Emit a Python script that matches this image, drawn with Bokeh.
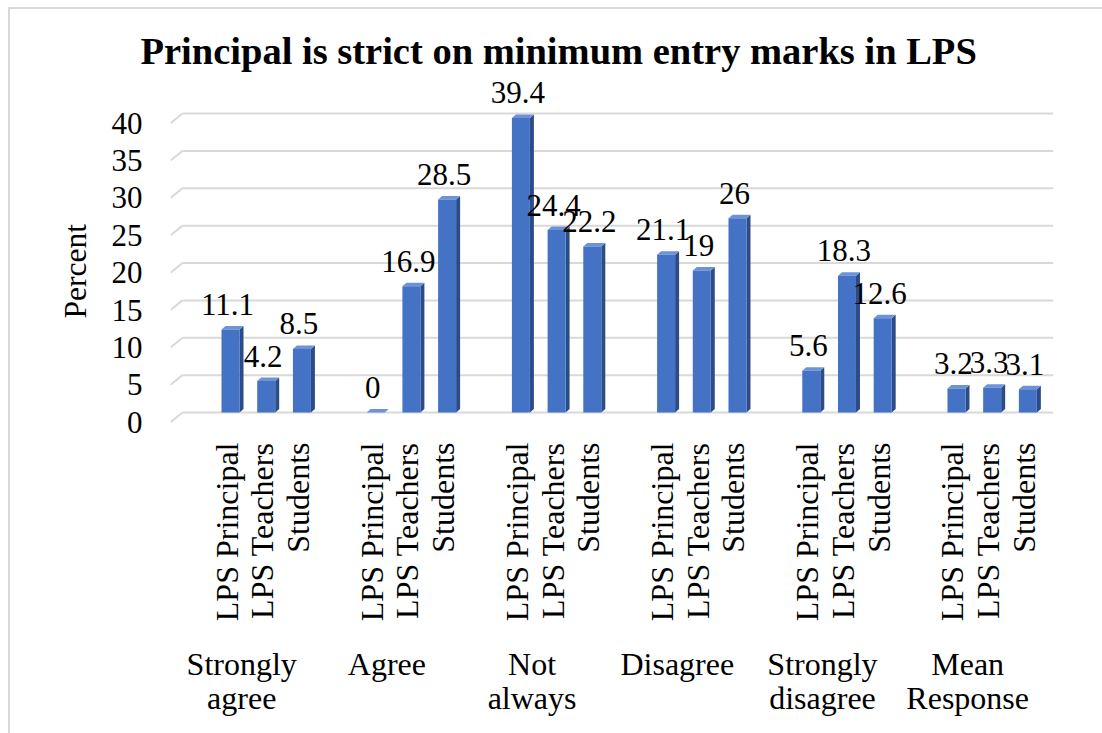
import math

from bokeh.core.properties import value
from bokeh.embed import file_html
from bokeh.models import ColumnDataSource, FixedTicker, LinearAxis, Range1d
from bokeh.plotting import figure
from bokeh.resources import INLINE

# ---- data -------------------------------------------------------------
categories = ["Strongly agree", "Agree", "Not always", "Disagree",
              "Strongly disagree", "Mean Response"]
category_labels = ["Strongly\nagree", "Agree", "Not\nalways", "Disagree",
                   "Strongly\ndisagree", "Mean\nResponse"]
series = ["LPS Principal", "LPS Teachers", "Students"]
principal = [11.1, 0, 39.4, 21.1, 5.6, 3.2]
teachers = [4.2, 16.9, 24.4, 19, 18.3, 3.3]
students = [8.5, 28.5, 22.2, 26, 12.6, 3.1]
y_ticks = [0, 5, 10, 15, 20, 25, 30, 35, 40]

values_by_series = [principal, teachers, students]

# ---- layout constants (pixels per data unit, 3D depth) ----------------
PX_X = 35.7            # one bar slot
PX_Y = 7.475           # one percent
GROUP_STEP = 4.067     # slots between neighbouring categories
BAR_W = 18 / PX_X
DEPTH_X = 4 / PX_X
DEPTH_Y = 3.5 / PX_Y
X_START, X_END = -2.681, -2.681 + 883 / PX_X
Y_START, Y_END = -1.605, -1.605 + 346 / PX_Y
FLOOR_DX = 12 / PX_X   # slanted start of each wall gridline
FLOOR_DY = 9.7 / PX_Y

FRONT = "#4472C4"
SIDE = "#2B4C88"
TOP = "#6B93D6"
GRID = "#D9D9D9"
FONT = "Liberation Serif"

# ---- geometry derived from the data -----------------------------------
bar_x, bar_v, bar_txt = [], [], []
for gi, _ in enumerate(categories):
    for si, vals in enumerate(values_by_series):
        bar_x.append(gi * GROUP_STEP + (si - 1))
        bar_v.append(vals[gi])
        bar_txt.append(f"{vals[gi]:g}")

front = ColumnDataSource(dict(
    left=[x - BAR_W / 2 for x in bar_x],
    right=[x + BAR_W / 2 for x in bar_x],
    top=bar_v,
))
side_xs, side_ys, top_xs, top_ys = [], [], [], []
for x, v in zip(bar_x, bar_v):
    l, r = x - BAR_W / 2, x + BAR_W / 2
    side_xs.append([r, r + DEPTH_X, r + DEPTH_X, r])
    side_ys.append([0, DEPTH_Y, v + DEPTH_Y, v])
    top_xs.append([l, l + DEPTH_X, r + DEPTH_X, r])
    top_ys.append([v, v + DEPTH_Y, v + DEPTH_Y, v])

grid_start = X_START + FLOOR_DX
grid = ColumnDataSource(dict(
    x0=[grid_start] * len(y_ticks), x1=[X_END] * len(y_ticks), y=y_ticks,
    kx0=[X_START] * len(y_ticks), ky0=[t - FLOOR_DY for t in y_ticks],
))

# ---- figure -----------------------------------------------------------
p = figure(
    frame_width=883, frame_height=346,
    min_border_left=170, min_border_right=49,
    min_border_top=78, min_border_bottom=309,
    x_range=Range1d(X_START, X_END), y_range=Range1d(Y_START, Y_END),
    y_axis_location=None,
    output_backend="svg", toolbar_location=None,
    background_fill_color=None, border_fill_color=None,
    outline_line_color=None,
)
p.xgrid.visible = False
p.ygrid.visible = False

# thin light-grey chart-area border (left and top edges)
p.styles = {
    "background-color": "white",
    "background-image": f"linear-gradient({GRID}, {GRID}), linear-gradient({GRID}, {GRID})",
    "background-size": "2px 100%, 100% 2px",
    "background-position": "8px 7px, 8px 7px",
    "background-repeat": "no-repeat",
}

p.title.text = "Principal is strict on minimum entry marks in LPS"
p.title.text_font = FONT
p.title.text_font_size = "38.5px"
p.title.text_font_style = "bold"
p.title.text_color = "black"
p.title.align = "left"
p.title.offset = -30
p.title.standoff = 14

# wall gridlines with their slanted floor ends
p.segment(x0="x0", y0="y", x1="x1", y1="y", source=grid,
          line_color=GRID, line_width=2)
p.segment(x0="kx0", y0="ky0", x1="x0", y1="y", source=grid,
          line_color=GRID, line_width=2)

# 3D bars: right side, top, front
p.patches(side_xs, side_ys, fill_color=SIDE, line_color=None)
p.patches(top_xs, top_ys, fill_color=TOP, line_color=None)
p.quad(left="left", right="right", bottom=0, top="top", source=front,
       fill_color=FRONT, line_color=None)

# value labels
p.text(x=bar_x, y=bar_v, text=bar_txt, x_offset=-3, y_offset=-25,
       text_align="center", text_baseline="alphabetic",
       text_font=value(FONT), text_font_size="31px", text_color="black")

# y axis
p.extra_y_ranges = {"lab": Range1d(Y_START + FLOOR_DY, Y_END + FLOOR_DY)}
yaxis = LinearAxis(
    y_range_name="lab", ticker=FixedTicker(ticks=y_ticks),
    axis_label="Percent" + "\u00a0" * 5,
    axis_line_color=None, major_tick_line_color=None, minor_tick_line_color=None,
    major_tick_out=0, minor_tick_out=0, major_label_standoff=28,
    axis_label_standoff=16,
    major_label_text_font=FONT, major_label_text_font_size="31px",
    major_label_text_color="black",
    axis_label_text_font=FONT, axis_label_text_font_size="31.5px",
    axis_label_text_font_style="normal", axis_label_text_color="black",
)
p.add_layout(yaxis, "left")

# x axis: series names under each bar
sub_x = [x - 4 / PX_X for x in bar_x]
sub_names = [series[i % 3] for i in range(len(bar_x))]
xa = p.xaxis[0]
xa.ticker = FixedTicker(ticks=sub_x)
xa.major_label_overrides = dict(zip(sub_x, sub_names))
xa.major_label_orientation = math.pi / 2
xa.major_label_standoff = 18
xa.axis_line_color = None
xa.major_tick_line_color = None
xa.minor_tick_line_color = None
xa.major_tick_out = 0
xa.minor_tick_out = 0
xa.major_label_text_font = FONT
xa.major_label_text_font_size = "32px"
xa.major_label_text_color = "black"

# second x axis: category names
grp_x = [gi * GROUP_STEP - 24.5 / PX_X for gi in range(len(categories))]
ga = LinearAxis(
    ticker=FixedTicker(ticks=grp_x),
    major_label_overrides=dict(zip(grp_x, category_labels)),
    axis_line_color=None, major_tick_line_color=None, minor_tick_line_color=None,
    major_tick_out=0, minor_tick_out=0, major_label_standoff=21,
    major_label_text_font=FONT, major_label_text_font_size="32px",
    major_label_text_line_height=0.97,
    major_label_text_color="black", major_label_text_align="center",
)
p.add_layout(ga, "below")

open("out.html", "w").write(file_html(p, INLINE))
